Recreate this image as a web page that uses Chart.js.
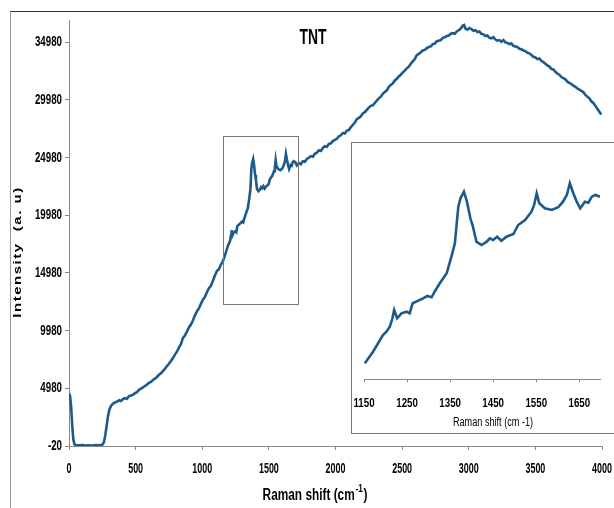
<!DOCTYPE html>
<html>
<head>
<meta charset="utf-8">
<script src="https://cdn.jsdelivr.net/npm/chart.js@4/dist/chart.umd.min.js"></script>
<style>
	html, body { margin: 0; padding: 0; background: #fff; overflow: hidden; }
	#frame { position: absolute; left: 10px; top: 11px; width: 620px; height: 520px; border-top: 1px solid #333; border-left: 1px solid #9a9a9a; }
	#main { position: absolute; left: 0; top: 0; }
	#insetBox { position: absolute; left: 351px; top: 142px; width: 280px; height: 290px; border: 1px solid #777; background: #fff; }
	#inset { position: absolute; left: 0; top: 0; }
</style>
</head>
<body>
<div id="frame"></div>
<canvas id="main" width="614" height="508"></canvas>
<div id="insetBox"><canvas id="inset" width="280" height="290"></canvas></div>
<script>
// --- datos --- //
const mainShift = [
	0, 8, 16, 24, 32, 40, 50, 75, 100, 125, 150, 175, 200, 225, 250, 262, 272, 282, 292, 302,
	315, 330, 345, 360, 375, 390, 405, 420, 435, 450, 465, 480, 495, 510, 525, 540, 555, 570, 585, 600,
	615, 630, 645, 660, 675, 690, 705, 720, 735, 750, 765, 780, 795, 810, 825, 840, 855, 870, 885, 900,
	915, 930, 945, 960, 975, 990, 1005, 1020, 1035, 1050, 1065, 1080, 1095, 1110, 1125, 1140,
	1710, 1725, 1740, 1755, 1770, 1785, 1800, 1815, 1830, 1845, 1860, 1875, 1890, 1905, 1920, 1935, 1950, 1965, 1980, 1995,
	2010, 2025, 2040, 2055, 2070, 2085, 2100, 2115, 2130, 2145, 2160, 2175, 2190, 2205, 2220, 2235, 2250, 2265, 2280, 2295,
	2310, 2325, 2340, 2355, 2370, 2385, 2400, 2415, 2430, 2445, 2460, 2475, 2490, 2505, 2520, 2535, 2550, 2565, 2580, 2595,
	2610, 2625, 2640, 2655, 2670, 2685, 2700, 2715, 2730, 2745, 2760, 2775, 2790, 2805, 2820, 2835, 2850, 2865, 2880, 2895,
	2910, 2925, 2940, 2955, 2965, 2975, 2990, 3005, 3020, 3035, 3050, 3065, 3080, 3095, 3110, 3125, 3140, 3155, 3170, 3185,
	3200, 3215, 3230, 3245, 3260, 3275, 3290, 3305, 3320, 3335, 3350, 3365, 3380, 3395, 3410, 3425, 3440, 3455, 3470, 3485,
	3500, 3515, 3530, 3545, 3560, 3575, 3590, 3605, 3620, 3635, 3650, 3665, 3680, 3695, 3710, 3725, 3740, 3755, 3770, 3785,
	3800, 3815, 3830, 3845, 3860, 3875, 3890, 3905, 3920, 3935, 3950, 3965, 3980, 3995
];
const mainIntensity = [
	4550, 4300, 3400, 1800, 600, 150, 60, 40, 70, 30, 50, 20, 60, 40, 90, 300, 900, 1700, 2500, 3100,
	3450, 3650, 3750, 3820, 3950, 3880, 4050, 4120, 4080, 4300, 4350, 4420, 4560, 4650, 4850, 4950, 5060, 5180, 5290, 5450,
	5530, 5700, 5820, 5960, 6150, 6280, 6480, 6650, 6900, 7100, 7350, 7600, 7900, 8150, 8500, 8800, 9350, 9550, 9900, 10250,
	10500, 10850, 11300, 11650, 11900, 12300, 12650, 12900, 13300, 13650, 13850, 14300, 14750, 15150, 15300, 15700,
	24300, 24500, 24400, 24650, 24600, 24850, 24950, 25100, 25050, 25300, 25400, 25600, 25550, 25800, 25950, 25900, 26150, 26200, 26400, 26500,
	26600, 26800, 26900, 27100, 27050, 27300, 27350, 27600, 27800, 28000, 28300, 28400, 28550, 28800, 28900, 29100, 29300, 29450, 29500, 29700,
	29900, 30100, 30250, 30500, 30650, 30800, 31100, 31250, 31400, 31650, 31800, 32000, 32150, 32350, 32500, 32700, 32850, 33100, 33300, 33500,
	33850, 33950, 34100, 34250, 34300, 34450, 34550, 34600, 34800, 34850, 35050, 35100, 35150, 35350, 35400, 35500, 35550, 35700, 35750, 35700,
	35900, 36000, 36150, 36400, 36450, 36150, 36050, 36200, 36100, 35950, 36000, 35850, 35900, 35700, 35650, 35500, 35550, 35350, 35300, 35400,
	35200, 35100, 35150, 35000, 35150, 34950, 34900, 34800, 34850, 34650, 34600, 34550, 34400, 34350, 34250, 34200, 34050, 34000, 33850, 33700,
	33650, 33500, 33550, 33350, 33250, 33100, 32950, 32850, 32650, 32600, 32400, 32250, 32150, 31950, 31850, 31750, 31550, 31450, 31350, 31200,
	31100, 30950, 30850, 30750, 30650, 30400, 30250, 30100, 29850, 29700, 29450, 29200, 28950, 28700
];
// zona ampliada (1150 - 1700)
const insetShift = [
	1152, 1171, 1194, 1202, 1210, 1216, 1220, 1227, 1237, 1249, 1256, 1263, 1276, 1287, 1297, 1307, 1314, 1326, 1342, 1353,
	1361, 1369, 1374, 1382, 1389, 1397, 1403, 1411, 1423, 1435, 1442, 1450, 1459, 1469, 1481, 1497, 1508, 1524, 1539, 1545,
	1551, 1557, 1570, 1586, 1601, 1612, 1621, 1628, 1636, 1644, 1652, 1663, 1671, 1679, 1687, 1698
];
const insetIntensity = [
	15908, 16512, 17381, 17553, 17813, 18250, 18682, 18250, 18510, 18593, 18510, 19030, 19166, 19290, 19410, 19342, 19634, 20071, 20591, 21455,
	22152, 24057, 24494, 24837, 24317, 23453, 23016, 22236, 22064, 22236, 22413, 22324, 22496, 22288, 22496, 22636, 23104, 23364, 23796, 24145,
	24754, 24233, 23973, 23885, 24026, 24317, 24665, 25274, 24754, 24317, 23973, 24317, 24265, 24577, 24665, 24577
];
const yTicks = [-20, 4980, 9980, 14980, 19980, 24980, 29980, 34980];
const xTicks = [0, 500, 1000, 1500, 2000, 2500, 3000, 3500, 4000];
const insetTicks = [1150, 1250, 1350, 1450, 1550, 1650];
const zoomRange = [1159, 1720, 12265, 26831]; // x1, x2, y1, y2

const LINEA = '#1d5a8c';
const FUENTE = "'Liberation Sans', Arial, sans-serif";

// puntos de la grafica principal
let puntos = [];
mainShift.forEach((x, i) => puntos.push({ x: x, y: mainIntensity[i] }));
insetShift.forEach((x, i) => puntos.push({ x: x, y: insetIntensity[i] }));
puntos.sort((a, b) => a.x - b.x);

// texto estrecho (la imagen original esta comprimida en horizontal)
function texto(ctx, t, x, y, font, sx, align) {
	ctx.save();
	ctx.font = font;
	ctx.textAlign = align || 'center';
	ctx.textBaseline = 'middle';
	ctx.translate(x, y);
	ctx.scale(sx, 1);
	ctx.fillText(t, 0, 0);
	ctx.restore();
}

const adornos = {
	id: 'adornos',
	afterDatasetsDraw(chart) {
		const ctx = chart.ctx;
		const xs = chart.scales.x;
		const ys = chart.scales.y;
		const area = chart.chartArea;
		ctx.save();
		// recuadro de la zona ampliada
		const x1 = xs.getPixelForValue(zoomRange[0]);
		const x2 = xs.getPixelForValue(zoomRange[1]);
		const y1 = ys.getPixelForValue(zoomRange[2]);
		const y2 = ys.getPixelForValue(zoomRange[3]);
		ctx.strokeStyle = '#777';
		ctx.lineWidth = 1;
		ctx.strokeRect(Math.round(x1) + 0.5, Math.round(y2) + 0.5, Math.round(x2 - x1), Math.round(y1 - y2));
		ctx.fillStyle = '#000';

		// etiquetas de los ejes
		yTicks.forEach((v) => texto(ctx, String(v), area.left - 7, ys.getPixelForValue(v), 'bold 15px ' + FUENTE, 0.65, 'right'));
		xTicks.forEach((v) => texto(ctx, String(v), xs.getPixelForValue(v), area.bottom + 23, 'bold 14px ' + FUENTE, 0.64, 'center'));

		texto(ctx, 'TNT', 313, 38, 'bold 22px ' + FUENTE, 0.63, 'center');

		// titulo eje x con superindice
		ctx.save();
		ctx.translate(315, 0);
		ctx.scale(0.74, 1);
		ctx.textBaseline = 'middle';
		ctx.textAlign = 'left';
		ctx.font = 'bold 16px ' + FUENTE;
		const a = 'Raman shift (cm';
		const wa = ctx.measureText(a).width;
		ctx.font = 'bold 11px ' + FUENTE;
		const wb = ctx.measureText('-1').width;
		ctx.font = 'bold 16px ' + FUENTE;
		const wc = ctx.measureText(')').width;
		const sx = -(wa + wb + wc + 2) / 2;
		ctx.fillText(a, sx, 496);
		ctx.fillText(')', sx + wa + wb + 2, 496);
		ctx.font = 'bold 11px ' + FUENTE;
		ctx.fillText('-1', sx + wa + 1, 489);
		ctx.restore();

		// titulo eje y
		ctx.translate(18, 252);
		ctx.scale(0.72, 1);
		ctx.rotate(-Math.PI / 2);
		ctx.textAlign = 'center';
		ctx.textBaseline = 'middle';
		ctx.font = 'bold 15px ' + FUENTE;
		ctx.letterSpacing = '1.5px';
		ctx.fillText('Intensity  (a. u)', 0, 0);
		ctx.restore();
	},
};

new Chart(document.getElementById('main'), {
	type: 'line',
	data: {
		datasets: [
			{
				data: puntos,
				borderColor: LINEA,
				borderWidth: 2.6,
				pointRadius: 0,
				tension: 0,
				fill: false,
			},
		],
	},
	options: {
		responsive: false,
		animation: false,
		layout: { padding: { top: 20, right: 12, left: 0, bottom: 0 } },
		plugins: { legend: { display: false }, tooltip: { enabled: false } },
		scales: {
			x: {
				type: 'linear',
				min: 0,
				max: 4000,
				afterBuildTicks: (s) => { s.ticks = xTicks.map((v) => ({ value: v })); },
				ticks: { display: false },
				grid: { drawOnChartArea: false, tickLength: 4, color: '#888' },
				border: { color: '#888' },
				afterFit: (s) => { s.height = 62; },
			},
			y: {
				min: -20,
				max: 36890,
				afterBuildTicks: (s) => { s.ticks = yTicks.map((v) => ({ value: v })); },
				ticks: { display: false },
				grid: { drawOnChartArea: false, tickLength: 4, color: '#888' },
				border: { color: '#888' },
				afterFit: (s) => { s.width = 69; },
			},
		},
	},
	plugins: [adornos],
});

// --- grafica ampliada --- //
const adornosInset = {
	id: 'adornosInset',
	afterDraw(chart) {
		const ctx = chart.ctx;
		const xs = chart.scales.x;
		const area = chart.chartArea;
		ctx.save();
		ctx.fillStyle = '#000';
		insetTicks.forEach((v) => texto(ctx, String(v), xs.getPixelForValue(v), area.bottom + 24, 'bold 12.5px ' + FUENTE, 0.78, 'center'));
		texto(ctx, 'Raman shift (cm -1)', 141, 280, '12px ' + FUENTE, 0.76, 'center');
		ctx.restore();
	},
};

new Chart(document.getElementById('inset'), {
	type: 'line',
	data: {
		datasets: [
			{
				data: insetShift.map((x, i) => ({ x: x, y: insetIntensity[i] })),
				borderColor: LINEA,
				borderWidth: 2.6,
				pointRadius: 0,
				tension: 0,
				fill: false,
			},
		],
	},
	options: {
		responsive: false,
		animation: false,
		layout: { padding: { top: 17, right: 32, left: 12, bottom: 0 } },
		plugins: { legend: { display: false }, tooltip: { enabled: false } },
		scales: {
			x: {
				type: 'linear',
				min: 1150,
				max: 1698,
				afterBuildTicks: (s) => { s.ticks = insetTicks.map((v) => ({ value: v })); },
				ticks: { display: false },
				grid: { drawOnChartArea: false, tickLength: 3, color: '#888' },
				border: { color: '#888' },
				afterFit: (s) => { s.height = 53.7; },
			},
			y: {
				display: false,
				min: 15076,
				max: 26486,
			},
		},
	},
	plugins: [adornosInset],
});
</script>
</body>
</html>
